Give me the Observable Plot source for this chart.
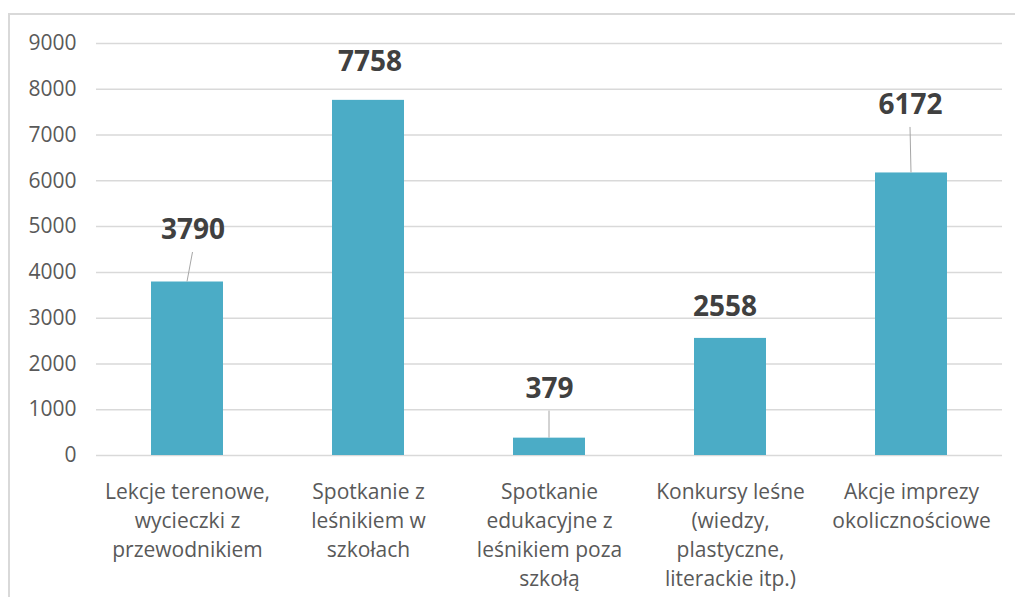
<!DOCTYPE html>
<html>
<head>
<meta charset="utf-8">
<script src="https://cdn.jsdelivr.net/npm/d3@7"></script>
<script src="https://cdn.jsdelivr.net/npm/@observablehq/plot@0.6"></script>
<style>
  html, body { margin: 0; padding: 0; background: #fff; overflow: hidden; }
  #wrap { position: relative; width: 1015px; height: 597px; }
  #frame { position: absolute; left: 8px; top: 13px; width: 2000px; height: 2000px;
           border-left: 2px solid #d9d9d9; border-top: 2px solid #d9d9d9; box-sizing: border-box; }
  #chart { position: absolute; left: 0; top: 0; }
  #chart svg { font-family: "Open Sans", sans-serif; }
</style>
</head>
<body>
<div id="wrap"><div id="frame"></div><div id="chart"></div></div>
<script>
const categories = [
  "Lekcje terenowe,\nwycieczki z\nprzewodnikiem",
  "Spotkanie z\nleśnikiem w\nszkołach",
  "Spotkanie\nedukacyjne z\nleśnikiem poza\nszkołą",
  "Konkursy leśne\n(wiedzy,\nplastyczne,\nliterackie itp.)",
  "Akcje imprezy\nokolicznościowe"
];
const values = [3790, 7758, 379, 2558, 6172];
const yTicks = [0, 1000, 2000, 3000, 4000, 5000, 6000, 7000, 8000, 9000];

// label placement offsets (pixels) relative to the top centre of each bar
const labelDx = [5.5, 1.5, 0, -5.5, -1];
const labelDy = [-51.5, -38, -49, -31, -67.5];

const data = categories.map((c, i) => ({category: c, value: values[i]}));

const plot = Plot.plot({
  width: 1015,
  height: 597,
  marginLeft: 96,
  marginRight: 13,
  marginTop: 43,
  marginBottom: 142,
  style: {fontFamily: "Open Sans, sans-serif", background: "transparent"},
  x: {domain: categories, paddingInner: 0.6, paddingOuter: 0.3, label: null},
  y: {domain: [0, 9000], label: null},
  marks: [
    Plot.gridY(yTicks, {stroke: "#d9d9d9", strokeOpacity: 1, strokeWidth: 1.5}),
    Plot.barY(data, {x: "category", y: "value", fill: "#4bacc6"}),
    Plot.axisY(yTicks, {tickSize: 0, tickPadding: 20, fontSize: 21, fill: "#595959", tickFormat: d => String(d)}),
    Plot.axisX({tickSize: 0, tickPadding: 23.4, fontSize: 21, fill: "#595959", lineHeight: 1.38}),
    ...data.map((d, i) => Plot.text([d], {
      x: "category", y: "value", text: r => String(r.value),
      dx: labelDx[i], dy: labelDy[i],
      fontSize: 28, fontWeight: "bold", fill: "#404040", textAnchor: "middle", lineAnchor: "middle"
    }))
  ]
});

document.getElementById("chart").appendChild(plot);

// leader lines from bar tops to labels, positioned through the plot's scales
const xs = plot.scale("x"), ys = plot.scale("y");
const svg = d3.select(plot);
data.forEach((d, i) => {
  if (Math.abs(labelDy[i]) < 40) return;
  const cx = xs.apply(d.category) + xs.bandwidth / 2;
  const top = ys.apply(d.value);
  svg.append("line")
    .attr("x1", cx).attr("y1", top)
    .attr("x2", cx + labelDx[i]).attr("y2", top + labelDy[i] + 22)
    .attr("stroke", "#a6a6a6").attr("stroke-width", 1);
});
</script>
</body>
</html>
